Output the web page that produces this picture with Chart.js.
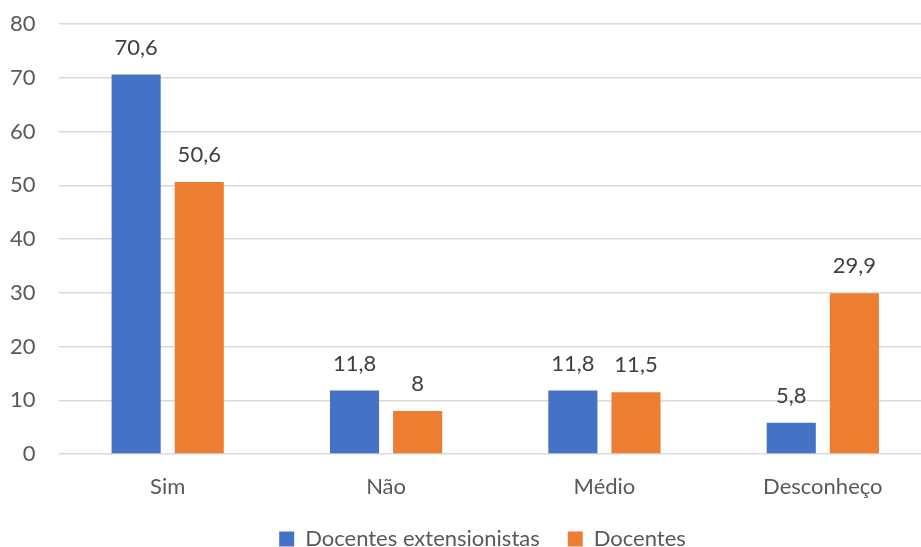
<!DOCTYPE html>
<html>
<head>
<meta charset="utf-8">
<script src="https://cdn.jsdelivr.net/npm/chart.js@4/dist/chart.umd.min.js"></script>
<style>
  html, body { margin: 0; padding: 0; background: #fff; overflow: hidden; }
  #wrap { width: 932px; height: 547px; }
</style>
</head>
<body>
<div id="wrap"><canvas id="chart"></canvas></div>
<script>
const categories = ['Sim', 'Não', 'Médio', 'Desconheço']
const extensionistas = [70.6, 11.8, 11.8, 5.8]
const docentes = [50.6, 8, 11.5, 29.9]
const seriesNames = ['Docentes extensionistas', 'Docentes']
const yTicks = [0, 10, 20, 30, 40, 50, 60, 70, 80]

const FONT = 'Lato, "Open Sans", sans-serif'
const FONT_SIZE = 22
const textColor = '#595959'

// rótulos de valor acima das barras
const valueLabels = {
  id: 'valueLabels',
  afterDatasetsDraw(chart) {
    const ctx = chart.ctx
    ctx.save()
    ctx.font = FONT_SIZE + 'px ' + FONT
    ctx.fillStyle = '#404040'
    ctx.textAlign = 'center'
    ctx.textBaseline = 'middle'
    chart.data.datasets.forEach((ds, i) => {
      chart.getDatasetMeta(i).data.forEach((bar, j) => {
        const txt = String(ds.data[j]).replace('.', ',')
        ctx.fillText(txt, bar.x, bar.y - 27)
      })
    })
    ctx.restore()
  },
}

// legenda centrada sob a área do gráfico, não sob o canvas inteiro
const legendShift = {
  id: 'legendShift',
  beforeDraw(chart) {
    const lg = chart.legend
    if (!lg) return
    lg.left += 23
    lg.right += 23
  },
}

new Chart(document.getElementById('chart'), {
  type: 'bar',
  plugins: [valueLabels, legendShift],
  data: {
    labels: categories,
    datasets: [
      { label: seriesNames[0], data: extensionistas, backgroundColor: '#4472C4' },
      { label: seriesNames[1], data: docentes, backgroundColor: '#ED7D31' },
    ],
  },
  options: {
    responsive: true,
    maintainAspectRatio: false,
    animation: false,
    categoryPercentage: 0.578,
    barPercentage: 0.778,
    layout: { padding: { left: -13, right: 0, top: 24, bottom: -13 } },
    plugins: {
      tooltip: { enabled: false },
      legend: {
        position: 'bottom',
        labels: {
          font: { size: FONT_SIZE, family: FONT },
          color: textColor,
          boxWidth: 15,
          boxHeight: 15,
          padding: 28,
        },
      },
    },
    scales: {
      x: {
        grid: { display: false, drawTicks: false },
        border: { display: false },
        ticks: { font: { size: FONT_SIZE, family: FONT }, color: textColor, padding: 20 },
        afterFit(axis) { axis.height = 46 },
      },
      y: {
        min: 0,
        max: 80,
        afterBuildTicks(axis) {
          axis.ticks = yTicks.map((v) => ({ value: v }))
        },
        afterFit(axis) {
          axis.paddingTop = 0
          axis.paddingBottom = 0
        },
        grid: { color: '#d9d9d9', lineWidth: 1.5, drawTicks: false },
        border: { display: false },
        ticks: { font: { size: FONT_SIZE, family: FONT }, color: textColor, padding: 23 },
      },
    },
  },
})
</script>
</body>
</html>
